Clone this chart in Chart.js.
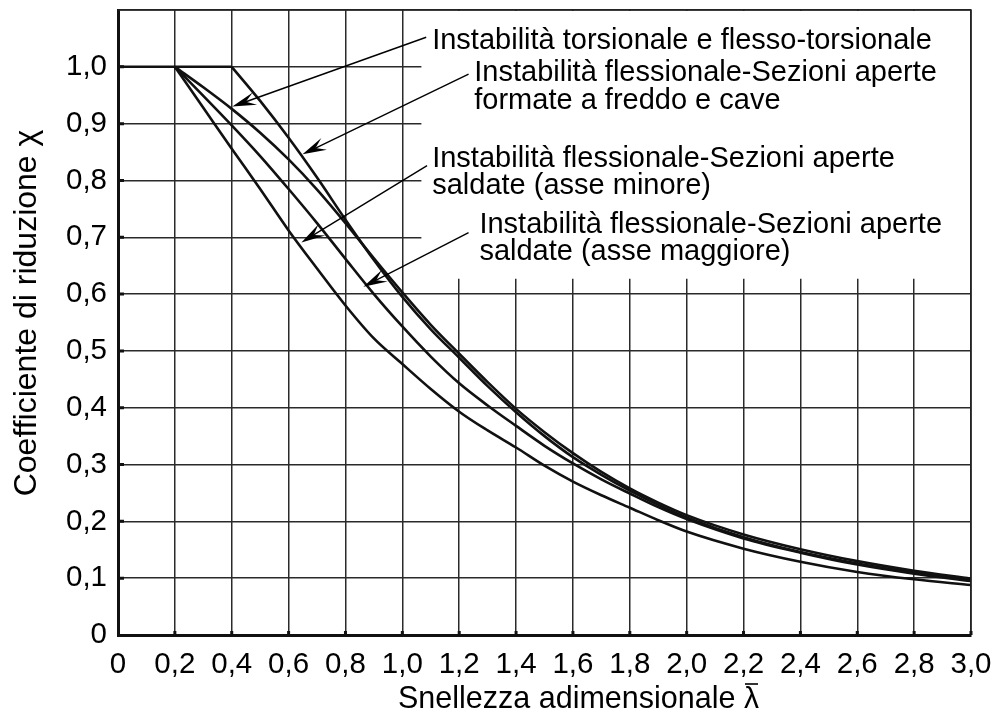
<!DOCTYPE html>
<html>
<head>
<meta charset="utf-8">
<script src="https://cdn.jsdelivr.net/npm/chart.js@4/dist/chart.umd.min.js"></script>
<style>
  html, body { margin: 0; padding: 0; background: #fff; }
</style>
</head>
<body>
<canvas id="chart" width="1000" height="716"></canvas>
<script>
// slenderness values (x) shared by the three curves starting at 0,2
var lambda = [0.2, 0.3, 0.4, 0.5, 0.6, 0.7, 0.8, 0.9, 1.0, 1.1, 1.2, 1.3, 1.4, 1.5,
              1.6, 1.7, 1.8, 1.9, 2.0, 2.2, 2.4, 2.6, 2.8, 3.0];
// torsional / flexural-torsional
var chiTorsional = [1.0, 0.964, 0.926, 0.884, 0.837, 0.784, 0.725, 0.663, 0.603, 0.546, 0.495, 0.445,
                    0.398, 0.357, 0.320, 0.287, 0.258, 0.233, 0.211, 0.177, 0.151, 0.130, 0.113, 0.099];
// welded open sections, major axis
var chiMajor = [1.0, 0.949, 0.897, 0.843, 0.785, 0.725, 0.662, 0.600, 0.543, 0.490, 0.443, 0.404,
                0.368, 0.333, 0.302, 0.274, 0.249, 0.225, 0.204, 0.170, 0.145, 0.124, 0.108, 0.095];
// welded open sections, minor axis
var chiMinor = [1.0, 0.928, 0.856, 0.785, 0.712, 0.645, 0.580, 0.522, 0.477, 0.433, 0.393, 0.360,
                0.330, 0.298, 0.270, 0.246, 0.224, 0.202, 0.182, 0.152, 0.129, 0.111, 0.098, 0.088];
// cold formed open and hollow sections (plateau up to 0,4)
var lambdaCold = [0.4, 0.5, 0.6, 0.7, 0.8, 0.9, 1.0, 1.1, 1.2, 1.3, 1.4, 1.5, 1.6, 1.7,
                  1.8, 1.9, 2.0, 2.2, 2.4, 2.6, 2.8, 3.0];
var chiCold = [1.0, 0.940, 0.875, 0.805, 0.731, 0.660, 0.595, 0.538, 0.488, 0.438, 0.392, 0.350,
               0.313, 0.282, 0.254, 0.229, 0.207, 0.172, 0.146, 0.126, 0.110, 0.097];
// common plateau chi = 1
var lambdaPlateau = [0, 0.4];
var chiPlateau = [1.0, 1.0];

var xTickLabels = ['0', '0,2', '0,4', '0,6', '0,8', '1,0', '1,2', '1,4', '1,6', '1,8',
                   '2,0', '2,2', '2,4', '2,6', '2,8', '3,0'];
var yTickLabels = ['0', '0,1', '0,2', '0,3', '0,4', '0,5', '0,6', '0,7', '0,8', '0,9', '1,0'];

var xTitle = 'Snellezza adimensionale';
var xTitleSymbol = '\u03BB';
var yTitle = 'Coefficiente di riduzione \u03C7';

// callouts: text lines, text anchor, leader start and arrow tip (data units)
var notes = [
  { lines: ['Instabilità torsionale e flesso-torsionale'],
    at: [1.105, 1.032], from: [1.084, 1.052], tip: [0.402, 0.930] },
  { lines: ['Instabilità flessionale-Sezioni aperte', 'formate a freddo e cave'],
    at: [1.253, 0.975], from: [1.233, 0.987], tip: [0.649, 0.846] },
  { lines: ['Instabilità flessionale-Sezioni aperte', 'saldate (asse minore)'],
    at: [1.105, 0.824], from: [1.087, 0.826], tip: [0.645, 0.691] },
  { lines: ['Instabilità flessionale-Sezioni aperte', 'saldate (asse maggiore)'],
    at: [1.271, 0.708], from: [1.233, 0.708], tip: [0.863, 0.613] }
];

var FONT = "'Liberation Sans', Arial, sans-serif";

function pts(xs, ys) {
  return xs.map(function (x, i) { return { x: x, y: ys[i] }; });
}

function curve(data) {
  return {
    data: data,
    borderColor: '#111',
    borderWidth: 2.6,
    pointRadius: 0,
    fill: false,
    cubicInterpolationMode: 'monotone'
  };
}

// white panel behind the callouts, drawn over the grid but under the curves
var panelPlugin = {
  id: 'panel',
  beforeDatasetsDraw: function (chart) {
    var ctx = chart.ctx, a = chart.chartArea;
    var xs = chart.scales.x, ys = chart.scales.y;
    var x0 = xs.getPixelForValue(1.067);
    var y1 = ys.getPixelForValue(0.627);
    ctx.save();
    ctx.fillStyle = '#fff';
    ctx.fillRect(x0, a.top + 1, a.right - 1 - x0, y1 - a.top - 1);
    ctx.restore();
  },
  afterDraw: function (chart) {
    var ctx = chart.ctx, a = chart.chartArea;
    var xs = chart.scales.x, ys = chart.scales.y;
    ctx.save();
    // frame top/right
    ctx.strokeStyle = '#222';
    ctx.lineWidth = 1.5;
    ctx.beginPath();
    ctx.moveTo(a.left, a.top);
    ctx.lineTo(a.right, a.top);
    ctx.lineTo(a.right, a.bottom);
    ctx.stroke();
    // short heavy ticks inside the axes
    ctx.strokeStyle = '#111';
    ctx.lineWidth = 3;
    ctx.beginPath();
    for (var i = 1; i < xTickLabels.length; i++) {
      var px = xs.getPixelForValue(i * 0.2);
      ctx.moveTo(px, a.bottom);
      ctx.lineTo(px, a.bottom - 4);
    }
    for (var j = 1; j < yTickLabels.length; j++) {
      var py = ys.getPixelForValue(j * 0.1);
      ctx.moveTo(a.left, py);
      ctx.lineTo(a.left + 6, py);
    }
    ctx.stroke();

    // callouts
    ctx.fillStyle = '#000';
    ctx.strokeStyle = '#000';
    ctx.font = '29px ' + FONT;
    ctx.textBaseline = 'alphabetic';
    ctx.textAlign = 'left';
    notes.forEach(function (n) {
      var tx = xs.getPixelForValue(n.at[0]);
      var ty = ys.getPixelForValue(n.at[1]);
      n.lines.forEach(function (s, k) { ctx.fillText(s, tx, ty + k * 27.5); });
      var sx = xs.getPixelForValue(n.from[0]), sy = ys.getPixelForValue(n.from[1]);
      var ex = xs.getPixelForValue(n.tip[0]), ey = ys.getPixelForValue(n.tip[1]);
      var dx = ex - sx, dy = ey - sy, len = Math.sqrt(dx * dx + dy * dy);
      var ux = dx / len, uy = dy / len, nx = -uy, ny = ux;
      var L = 24, W = 6.5;
      ctx.lineWidth = 1.4;
      ctx.beginPath();
      ctx.moveTo(sx, sy);
      ctx.lineTo(ex - ux * L * 0.6, ey - uy * L * 0.6);
      ctx.stroke();
      ctx.beginPath();
      ctx.moveTo(ex, ey);
      ctx.lineTo(ex - ux * L + nx * W, ey - uy * L + ny * W);
      ctx.lineTo(ex - ux * L * 0.6, ey - uy * L * 0.6);
      ctx.lineTo(ex - ux * L - nx * W, ey - uy * L - ny * W);
      ctx.closePath();
      ctx.fill();
    });

    // x title with barred lambda
    ctx.font = '30.5px ' + FONT;
    ctx.fillText(xTitle, 398, 708);
    ctx.font = '30px ' + FONT;
    ctx.fillText(xTitleSymbol, 744, 708);
    ctx.lineWidth = 1.6;
    ctx.beginPath();
    ctx.moveTo(745, 684);
    ctx.lineTo(758, 684);
    ctx.stroke();

    // y title
    ctx.translate(27, 313);
    ctx.rotate(-Math.PI / 2);
    ctx.textAlign = 'center';
    ctx.textBaseline = 'middle';
    ctx.font = '32px ' + FONT;
    ctx.fillText(yTitle, 0, 0);
    ctx.restore();
  }
};

new Chart(document.getElementById('chart'), {
  type: 'line',
  data: {
    datasets: [
      curve(pts(lambdaPlateau, chiPlateau)),
      curve(pts(lambda, chiTorsional)),
      curve(pts(lambdaCold, chiCold)),
      curve(pts(lambda, chiMajor)),
      curve(pts(lambda, chiMinor))
    ]
  },
  options: {
    responsive: false,
    animation: false,
    events: [],
    layout: { padding: { top: 10, right: 29, left: 0, bottom: 0 } },
    plugins: { legend: { display: false }, tooltip: { enabled: false } },
    scales: {
      x: {
        type: 'linear',
        min: 0,
        max: 3,
        afterFit: function (s) {
          s.height = 81;
          s.paddingLeft = 0;
          s.paddingRight = 0;
        },
        border: { display: true, color: '#111', width: 3 },
        grid: { color: '#2a2a2a', lineWidth: 1.5, drawTicks: false },
        ticks: {
          stepSize: 0.2,
          padding: 12,
          color: '#000',
          font: { family: FONT, size: 29.5 },
          maxRotation: 0,
          autoSkip: false,
          callback: function (v) { return xTickLabels[Math.round(v * 5)]; }
        }
      },
      y: {
        min: 0,
        max: 1.1,
        afterFit: function (s) {
          s.width = 118;
          s.paddingTop = 0;
          s.paddingBottom = 0;
        },
        border: { display: true, color: '#111', width: 3 },
        grid: { color: '#2a2a2a', lineWidth: 1.5, drawTicks: false },
        ticks: {
          stepSize: 0.1,
          padding: 11,
          color: '#000',
          font: { family: FONT, size: 29.5 },
          autoSkip: false,
          callback: function (v) {
            var lab = yTickLabels[Math.round(v * 10)];
            return lab === undefined ? '' : lab;
          }
        }
      }
    }
  },
  plugins: [panelPlugin]
});
</script>
</body>
</html>
